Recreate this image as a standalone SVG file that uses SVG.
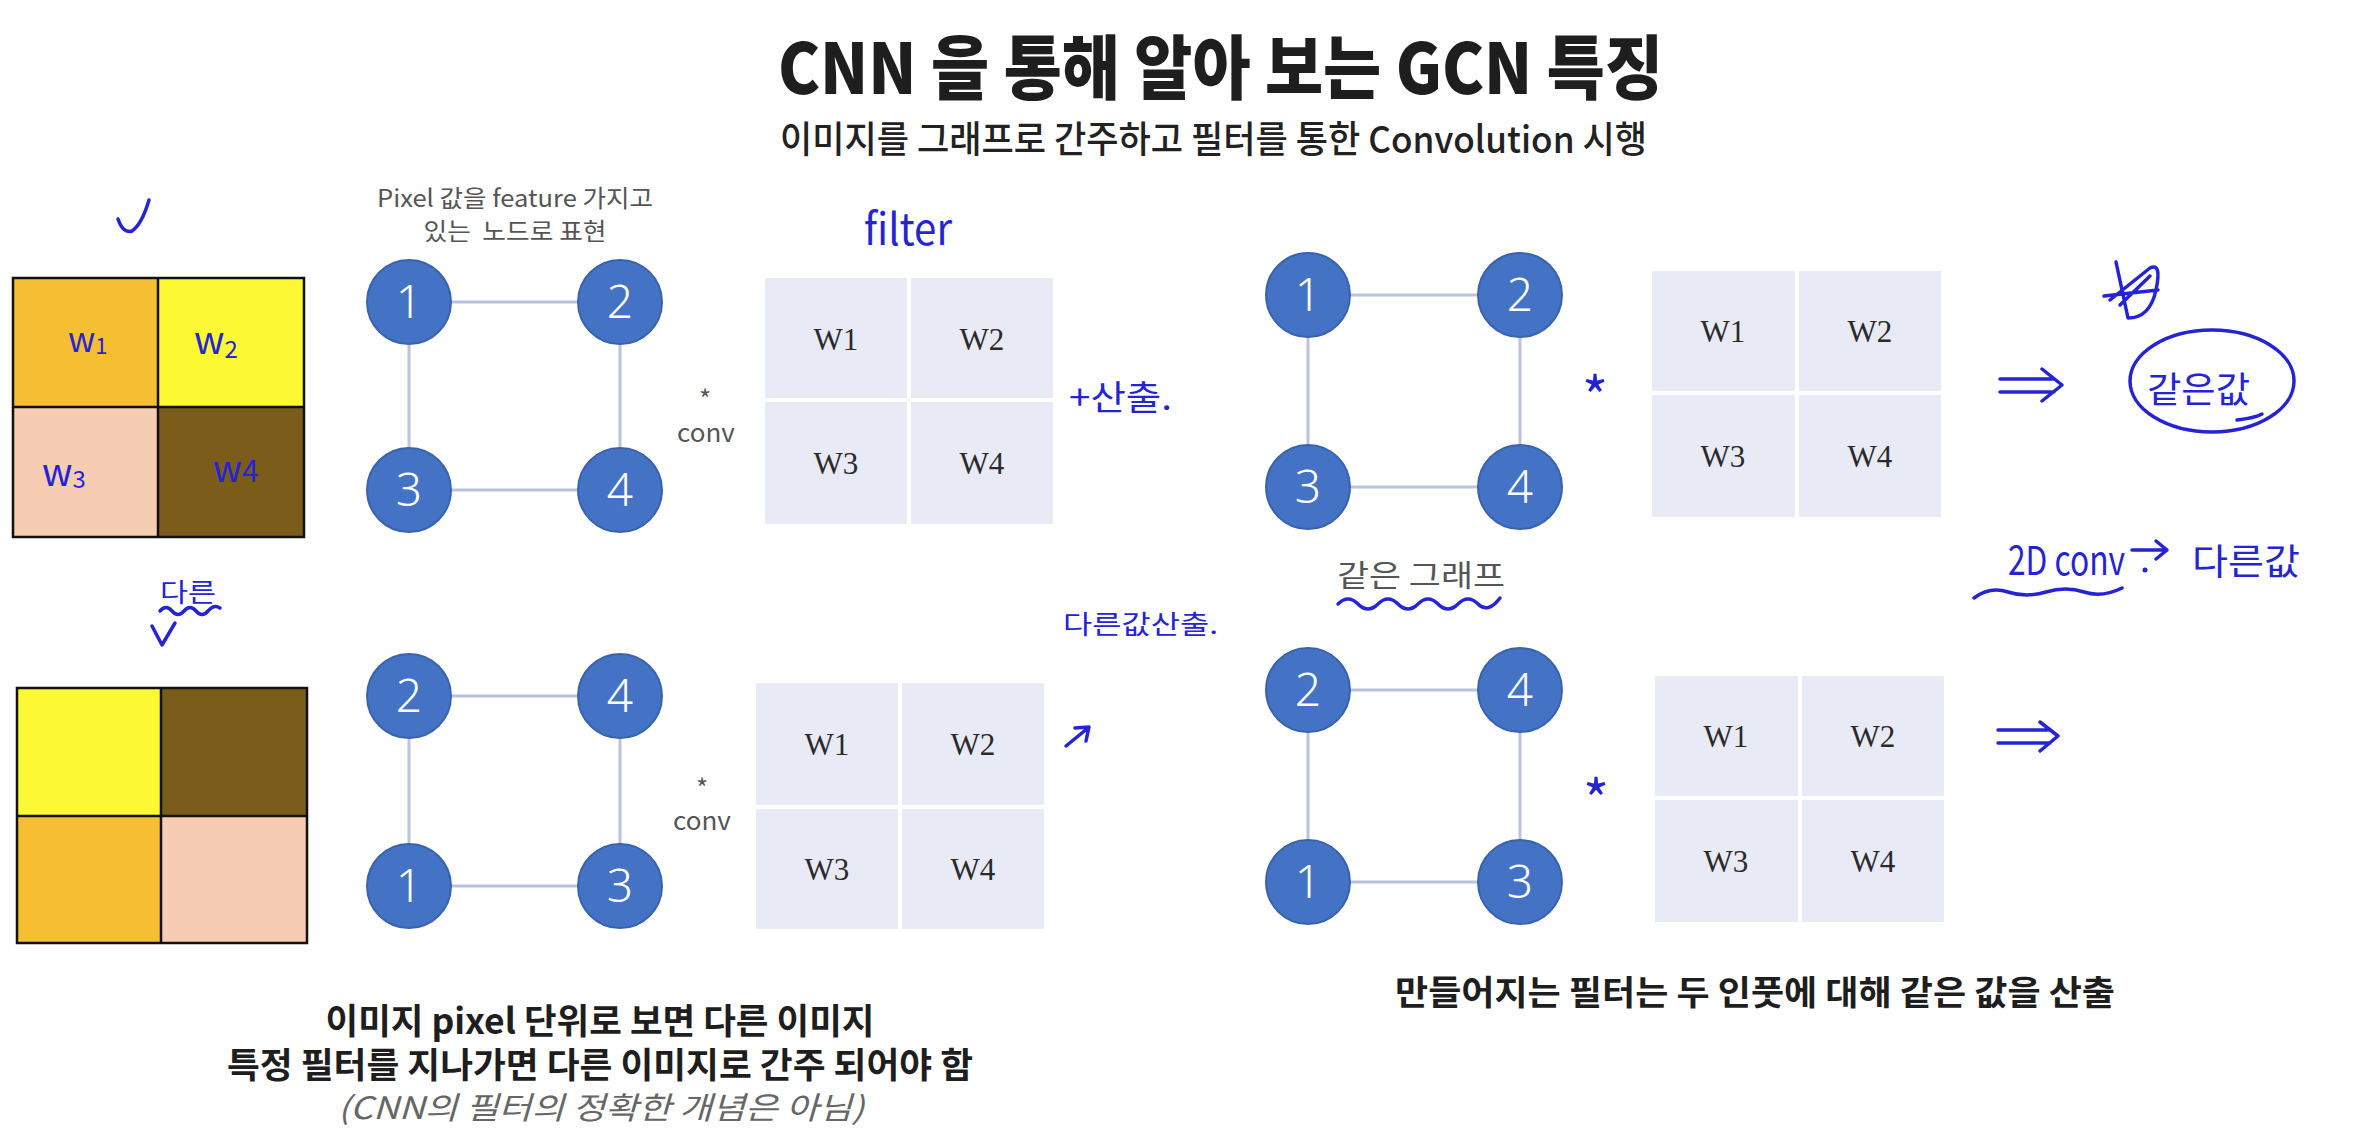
<svg xmlns="http://www.w3.org/2000/svg" width="2364" height="1146" viewBox="0 0 2364 1146">
<style>
.bg{fill:#ffffff}
.title{font-family:"Noto Sans CJK KR","Noto Sans",sans-serif;font-weight:900;fill:#1e1e1e}
.sub{font-family:"Noto Sans CJK KR","Noto Sans",sans-serif;font-weight:500;fill:#222}
.lbl{font-family:"Noto Sans CJK KR","Noto Sans",sans-serif;font-weight:400;fill:#555}
.body{font-family:"Noto Sans CJK KR","Noto Sans",sans-serif;font-weight:700;fill:#1e1e1e}
.note{font-family:"Noto Sans CJK KR","Noto Sans",sans-serif;font-weight:400;font-style:italic;fill:#666}
.edge{stroke:#B9C3DD;stroke-width:3;fill:none}
.node circle{fill:#4472C4;stroke:#3A63AD;stroke-width:2}
.node text{font-family:"Noto Sans","Liberation Sans",sans-serif;font-weight:300;font-size:46px;fill:#ffffff;text-anchor:middle}
.cell{fill:#E8EAF6}
.wt{font-family:"Liberation Serif","Times New Roman",serif;font-size:31px;fill:#2a2a2a;text-anchor:middle}
.px{stroke:#111;stroke-width:2.5}
.hw{font-family:"Noto Sans CJK KR","Noto Sans",sans-serif;font-weight:400;fill:#2424D4}
.hwl{stroke:#2424D4;stroke-width:3.5;fill:none;stroke-linecap:round;stroke-linejoin:round}
</style>
<rect class="bg" x="0" y="0" width="2364" height="1146"/>

<g id="title">
<text class="title" x="778" y="94" font-size="70" textLength="885" lengthAdjust="spacingAndGlyphs">CNN 을 통해 알아 보는 GCN 특징</text>
<text class="sub" x="780" y="153" font-size="37" textLength="867" lengthAdjust="spacingAndGlyphs">이미지를 그래프로 간주하고 필터를 통한 Convolution 시행</text>
</g>

<!-- pixel image grids -->
<g id="image-top">
<rect x="13" y="278" width="145" height="129" fill="#F6BE32"/>
<rect x="158" y="278" width="146" height="129" fill="#FDF834"/>
<rect x="13" y="407" width="145" height="130" fill="#F6CDB2"/>
<rect x="158" y="407" width="146" height="130" fill="#7B5C1B"/>
<rect x="13" y="278" width="291" height="259" fill="none" class="px"/>
<line x1="158" y1="278" x2="158" y2="537" class="px"/>
<line x1="13" y1="407" x2="304" y2="407" class="px"/>
</g>
<g id="image-bottom">
<rect x="17" y="688" width="144" height="128" fill="#FDF834"/>
<rect x="161" y="688" width="146" height="128" fill="#7B5C1B"/>
<rect x="17" y="816" width="144" height="127" fill="#F6BE32"/>
<rect x="161" y="816" width="146" height="127" fill="#F6CDB2"/>
<rect x="17" y="688" width="290" height="255" fill="none" class="px"/>
<line x1="161" y1="688" x2="161" y2="943" class="px"/>
<line x1="17" y1="816" x2="307" y2="816" class="px"/>
</g>

<g id="pixel-label">
<text class="lbl" x="515" y="207" font-size="24" text-anchor="middle" textLength="276" lengthAdjust="spacingAndGlyphs">Pixel 값을 feature 가지고</text>
<text class="lbl" x="515" y="240" font-size="24" text-anchor="middle" textLength="183" lengthAdjust="spacingAndGlyphs" xml:space="preserve">있는  노드로 표현</text>
</g>

<!-- connectors -->
<g id="connectors">
<line class="edge" x1="409" y1="302" x2="620" y2="302"/>
<line class="edge" x1="409" y1="302" x2="409" y2="490"/>
<line class="edge" x1="620" y1="302" x2="620" y2="490"/>
<line class="edge" x1="409" y1="490" x2="620" y2="490"/>

<line class="edge" x1="409" y1="696" x2="620" y2="696"/>
<line class="edge" x1="409" y1="696" x2="409" y2="886"/>
<line class="edge" x1="620" y1="696" x2="620" y2="886"/>
<line class="edge" x1="409" y1="886" x2="620" y2="886"/>

<line class="edge" x1="1308" y1="295" x2="1520" y2="295"/>
<line class="edge" x1="1308" y1="295" x2="1308" y2="487"/>
<line class="edge" x1="1520" y1="295" x2="1520" y2="487"/>
<line class="edge" x1="1308" y1="487" x2="1520" y2="487"/>

<line class="edge" x1="1308" y1="690" x2="1520" y2="690"/>
<line class="edge" x1="1308" y1="690" x2="1308" y2="882"/>
<line class="edge" x1="1520" y1="690" x2="1520" y2="882"/>
<line class="edge" x1="1308" y1="882" x2="1520" y2="882"/>
</g>

<!-- graph A (top-left) -->
<g id="gA-n1" class="node"><circle cx="409" cy="302" r="42"/><text x="409" y="318">1</text></g>
<g id="gA-n2" class="node"><circle cx="620" cy="302" r="42"/><text x="620" y="318">2</text></g>
<g id="gA-n3" class="node"><circle cx="409" cy="490" r="42"/><text x="409" y="506">3</text></g>
<g id="gA-n4" class="node"><circle cx="620" cy="490" r="42"/><text x="620" y="506">4</text></g>
<!-- graph B (bottom-left) -->
<g id="gB-n2" class="node"><circle cx="409" cy="696" r="42"/><text x="409" y="712">2</text></g>
<g id="gB-n4" class="node"><circle cx="620" cy="696" r="42"/><text x="620" y="712">4</text></g>
<g id="gB-n1" class="node"><circle cx="409" cy="886" r="42"/><text x="409" y="902">1</text></g>
<g id="gB-n3" class="node"><circle cx="620" cy="886" r="42"/><text x="620" y="902">3</text></g>
<!-- graph C (top-right) -->
<g id="gC-n1" class="node"><circle cx="1308" cy="295" r="42"/><text x="1308" y="311">1</text></g>
<g id="gC-n2" class="node"><circle cx="1520" cy="295" r="42"/><text x="1520" y="311">2</text></g>
<g id="gC-n3" class="node"><circle cx="1308" cy="487" r="42"/><text x="1308" y="503">3</text></g>
<g id="gC-n4" class="node"><circle cx="1520" cy="487" r="42"/><text x="1520" y="503">4</text></g>
<!-- graph D (bottom-right) -->
<g id="gD-n2" class="node"><circle cx="1308" cy="690" r="42"/><text x="1308" y="706">2</text></g>
<g id="gD-n4" class="node"><circle cx="1520" cy="690" r="42"/><text x="1520" y="706">4</text></g>
<g id="gD-n1" class="node"><circle cx="1308" cy="882" r="42"/><text x="1308" y="898">1</text></g>
<g id="gD-n3" class="node"><circle cx="1520" cy="882" r="42"/><text x="1520" y="898">3</text></g>

<!-- conv labels -->
<g id="conv-top">
<text x="705" y="409" font-size="26" text-anchor="middle" class="lbl">*</text>
<text x="706" y="442" font-size="26" text-anchor="middle" class="lbl">conv</text>
</g>
<g id="conv-bottom">
<text x="702" y="798" font-size="26" text-anchor="middle" class="lbl">*</text>
<text x="702" y="830" font-size="26" text-anchor="middle" class="lbl">conv</text>
</g>

<!-- filters -->
<g id="filter-1">
<rect class="cell" x="765" y="278" width="142" height="120"/>
<rect class="cell" x="911" y="278" width="142" height="120"/>
<rect class="cell" x="765" y="402" width="142" height="122"/>
<rect class="cell" x="911" y="402" width="142" height="122"/>
<text class="wt" x="836" y="350">W1</text>
<text class="wt" x="982" y="350">W2</text>
<text class="wt" x="836" y="474">W3</text>
<text class="wt" x="982" y="474">W4</text>
</g>
<g id="filter-2">
<rect class="cell" x="756" y="683" width="142" height="122"/>
<rect class="cell" x="902" y="683" width="142" height="122"/>
<rect class="cell" x="756" y="809" width="142" height="120"/>
<rect class="cell" x="902" y="809" width="142" height="120"/>
<text class="wt" x="827" y="755">W1</text>
<text class="wt" x="973" y="755">W2</text>
<text class="wt" x="827" y="880">W3</text>
<text class="wt" x="973" y="880">W4</text>
</g>
<g id="filter-3">
<rect class="cell" x="1652" y="271" width="143" height="120"/>
<rect class="cell" x="1799" y="271" width="142" height="120"/>
<rect class="cell" x="1652" y="395" width="143" height="122"/>
<rect class="cell" x="1799" y="395" width="142" height="122"/>
<text class="wt" x="1723" y="342">W1</text>
<text class="wt" x="1870" y="342">W2</text>
<text class="wt" x="1723" y="467">W3</text>
<text class="wt" x="1870" y="467">W4</text>
</g>
<g id="filter-4">
<rect class="cell" x="1655" y="676" width="143" height="120"/>
<rect class="cell" x="1802" y="676" width="142" height="120"/>
<rect class="cell" x="1655" y="800" width="143" height="122"/>
<rect class="cell" x="1802" y="800" width="142" height="122"/>
<text class="wt" x="1726" y="747">W1</text>
<text class="wt" x="1873" y="747">W2</text>
<text class="wt" x="1726" y="872">W3</text>
<text class="wt" x="1873" y="872">W4</text>
</g>

<g id="same-graph-label">
<text class="lbl" x="1421" y="586" font-size="30" text-anchor="middle" textLength="168" lengthAdjust="spacingAndGlyphs" fill="#444">같은 그래프</text>
</g>

<g id="caption-left">
<text class="body" x="600" y="1034" font-size="35" text-anchor="middle" textLength="549" lengthAdjust="spacingAndGlyphs">이미지 pixel 단위로 보면 다른 이미지</text>
<text class="body" x="600" y="1078" font-size="35" text-anchor="middle" textLength="746" lengthAdjust="spacingAndGlyphs">특정 필터를 지나가면 다른 이미지로 간주 되어야 함</text>
<text class="note" x="601" y="1119" font-size="31" text-anchor="middle" textLength="526" lengthAdjust="spacingAndGlyphs">(CNN의 필터의 정확한 개념은 아님)</text>
</g>
<g id="caption-right">
<text class="body" x="1755" y="1005" font-size="34" text-anchor="middle" textLength="720" lengthAdjust="spacingAndGlyphs">만들어지는 필터는 두 인풋에 대해 같은 값을 산출</text>
</g>

<!-- handwritten annotations -->
<g id="annotations">
<path class="hwl" d="M118 219 Q123 234 132 231 Q142 224 149 200"/>
<text class="hw" x="68" y="352" font-size="34">w<tspan font-size="22" dy="2">1</tspan></text>
<text class="hw" x="194" y="354" font-size="38">w<tspan font-size="24" dy="4">2</tspan></text>
<text class="hw" x="42" y="486" font-size="38">w<tspan font-size="24" dy="2">3</tspan></text>
<text class="hw" x="213" y="482" font-size="36">w<tspan font-size="30">4</tspan></text>

<text class="hw" x="160" y="602" font-size="26" textLength="56" lengthAdjust="spacingAndGlyphs">다른</text>
<path class="hwl" stroke-width="2.5" d="M160 611 Q166 604 172 611 T184 611 T196 611 T208 611 T220 608"/>
<path class="hwl" stroke-width="2.5" d="M152 626 L162 645 L175 623"/>

<text class="hw" x="864" y="245" font-size="44" textLength="88" lengthAdjust="spacingAndGlyphs">filter</text>
<text class="hw" x="1069" y="410" font-size="34" textLength="103" lengthAdjust="spacingAndGlyphs">+산출.</text>
<text class="hw" x="1063" y="634" font-size="26" textLength="155" lengthAdjust="spacingAndGlyphs">다른값산출.</text>
<path class="hwl" stroke-width="3" d="M1066 746 L1088 728 M1075 728 L1089 727 L1086 741"/>

<text class="hw" x="1595" y="418" font-size="56" text-anchor="middle" font-weight="700">*</text>
<text class="hw" x="1596" y="821" font-size="56" text-anchor="middle" font-weight="700">*</text>
<path class="hwl" d="M1338 604 Q1348 594 1358 604 T1378 604 T1398 604 T1418 604 T1438 604 T1458 604 T1478 604 T1500 598"/>

<path class="hwl" d="M2000 379 L2054 379 M2000 392 L2054 392 M2042 369 L2062 385 L2042 401"/>
<path class="hwl" stroke-width="3" d="M2110 300 L2150 268 Q2162 262 2156 290 Q2150 318 2128 318 L2116 262 M2104 296 L2158 290 M2120 305 L2150 276"/>
<ellipse cx="2212" cy="381" rx="82" ry="51" class="hwl"/>
<path class="hwl" d="M2237 420 Q2255 418 2262 414"/>
<text class="hw" x="2147" y="403" font-size="36" textLength="103" lengthAdjust="spacingAndGlyphs">같은값</text>

<text class="hw" x="2008" y="575" font-size="40" textLength="117" lengthAdjust="spacingAndGlyphs">2D conv</text>
<path class="hwl" stroke-width="3" d="M2132 550 L2166 550 M2156 541 L2167 550 L2156 559"/>
<circle cx="2145" cy="570" r="2.5" fill="#2424D4"/>
<text class="hw" x="2192" y="575" font-size="36" textLength="108" lengthAdjust="spacingAndGlyphs">다른값</text>
<path class="hwl" d="M1974 598 Q1990 586 2008 592 T2046 592 T2084 592 T2122 588"/>

<path class="hwl" d="M1998 730 L2050 730 M1998 743 L2050 743 M2040 722 L2058 736 L2040 751"/>
</g>
</svg>
